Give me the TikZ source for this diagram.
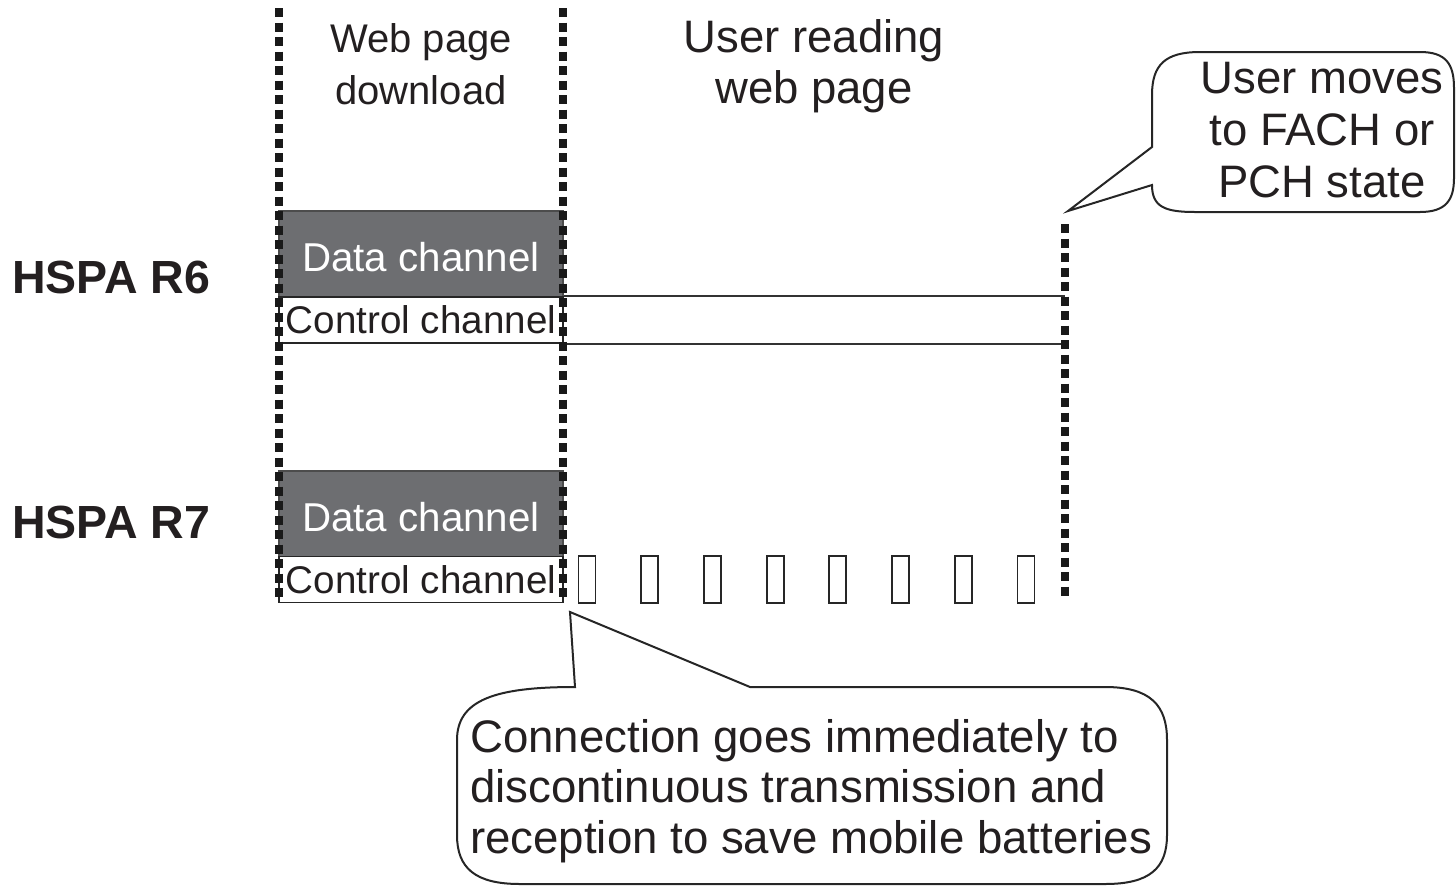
\documentclass[tikz,border=0pt]{standalone}
\usepackage{fontspec}
\setmainfont{Liberation Sans}
\definecolor{dgray}{RGB}{109,110,113}
\definecolor{txt}{RGB}{35,31,32}
\begin{document}
\begin{tikzpicture}[x=1pt,y=-1pt,
  thinline/.style={draw=black!80, line width=1.8pt},
  dotline/.style={line width=8.5pt, draw=black!90, dash pattern=on 9pt off 5.5pt},
  databox/.style={draw=black!70, line width=2pt, fill=dgray, text=white,
    minimum width=284pt, minimum height=86pt, inner sep=0pt,
    font=\fontsize{40.3}{48}\selectfont, text height=34pt, text depth=0pt},
  ctrlbox/.style={draw=black!85, line width=1.8pt, fill=white, text=txt,
    minimum width=284pt, minimum height=46pt, inner sep=0pt,
    font=\fontsize{38.6}{46}\selectfont},
  slot/.style={draw=black!85, line width=1.8pt, minimum width=17pt,
    minimum height=47pt, inner sep=0pt},
  hdr/.style={align=center, inner sep=0pt, text=txt},
  rowlabel/.style={anchor=west, inner sep=0pt, text=txt,
    font=\fontsize{46.5}{54}\selectfont\bfseries},
  bubble/.style={draw=black!85, line width=2pt, fill=white, line join=miter}
]
\useasboundingbox (0,0) rectangle (1456,887);

% boxes
\node[databox] (d6) at (421,254) {Data channel};
\node[ctrlbox] (c6) at (421,320) {Control channel};
\node[databox] (d7) at (421,514) {Data channel};
\node[ctrlbox] (c7) at (421,579.5) {Control channel};

% dotted time markers
\coordinate (ltop) at (279,8);
\coordinate (lbot) at (279,600);
\coordinate (mtop) at (563,8);
\coordinate (mbot) at (563,600);
\coordinate (rtop) at (1065,224);
\coordinate (rbot) at (1065,600);

% R6 control channel continues
\draw[thinline] (c6.north east) -- (c6.north east -| rtop);
\draw[thinline] (c6.south east) -- (c6.south east -| rtop);

% R7 DTX slots
\foreach \i in {0,...,7} {
  \node[slot] (s\i) at ({587+62.7*\i},579.5) {};
}

\draw[dotline] (ltop) -- (lbot);
\draw[dotline] (mtop) -- (mbot);
\draw[dotline] (rtop) -- (rbot);

% headers
\node[hdr, font=\fontsize{40}{52}\selectfont] (h1) at (421,64) {Web page\\download};
\node[hdr, font=\fontsize{45.5}{51}\selectfont] (h2) at (814,66) {User reading\\web page};

% row labels
\node[rowlabel] (r6) at (12,277) {HSPA R6};
\node[rowlabel] (r7) at (12,522) {HSPA R7};

% callout 1
\coordinate (tip1) at (1068,211);
\draw[bubble] (1152,147) -- (tip1) -- (1152,185)
  .. controls (1152,207) and (1165,212) .. (1195,212) -- (1420,212)
  .. controls (1446,212) and (1454,200) .. (1454,178) -- (1454,88)
  .. controls (1454,64) and (1446,52) .. (1420,52) -- (1200,52)
  .. controls (1165,52) and (1152,65) .. (1152,95) -- cycle;
\node[hdr, font=\fontsize{45.5}{52}\selectfont] (t1) at (1322,130) {User moves\\to FACH or\\PCH state};

% callout 2
\coordinate (tip2) at (570,612);
\draw[bubble] (575,687) -- (tip2) -- (750,687) -- (1105,687)
  .. controls (1150,687) and (1167,705) .. (1167,740) -- (1167,835)
  .. controls (1167,868) and (1150,884) .. (1105,884) -- (520,884)
  .. controls (475,884) and (457,868) .. (457,835) -- (457,740)
  .. controls (457,700) and (495,687) .. (575,687) -- cycle;
\node[anchor=north west, align=left, inner sep=0pt, text=txt,
  font=\fontsize{45.6}{50.5}\selectfont] (t2) at (470,719)
  {Connection goes immediately to\\discontinuous transmission and\\reception to save mobile batteries};
\end{tikzpicture}
\end{document}
